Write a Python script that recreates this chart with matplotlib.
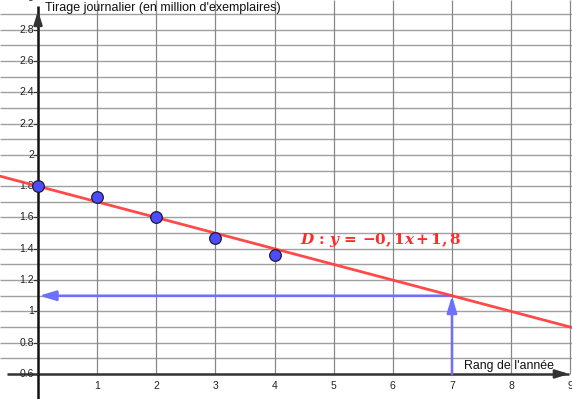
import matplotlib
matplotlib.use("Agg")
import matplotlib.pyplot as plt
import numpy as np

# Data
ranks = [0, 1, 2, 3, 4]
tirage = [1.80, 1.73, 1.60, 1.47, 1.36]
slope = -0.1
intercept = 1.8
x_pred = 7
y_ticks = [0.6, 0.8, 1, 1.2, 1.4, 1.6, 1.8, 2, 2.2, 2.4, 2.6, 2.8, 3]
y_tick_labels = ["0.6", "0.8", "1", "1.2", "1.4", "1.6", "1.8", "2", "2.2", "2.4", "2.6", "2.8", "3"]
x_ticks = [1, 2, 3, 4, 5, 6, 7, 8, 9]
x_tick_labels = ["1", "2", "3", "4", "5", "6", "7", "8", "9"]
y_label = "Tirage journalier (en million d'exemplaires)"
x_label = "Rang de l'année"
eq_label = r"$\mathbfit{D}\,\mathbf{:}\,\mathbfit{y}\,\mathbf{=}\,\mathbf{-0,1}\mathbfit{x}\,\mathbf{+}\,\mathbf{1,8}$"

plt.rcParams["mathtext.fontset"] = "dejavuserif"

XMIN, XMAX = -0.643, 9.03
YMIN, YMAX = 0.44, 2.99
Y_AXIS = 0.6

fig = plt.figure(figsize=(5.72, 3.99), dpi=100)
ax = fig.add_axes([0, 0, 1, 1])
ax.set_xlim(XMIN, XMAX)
ax.set_ylim(YMIN, YMAX)
ax.axis("off")

# grid
grid_y = np.round(np.arange(0.7, 3.0, 0.1), 2)
ax.hlines(grid_y, XMIN, XMAX, color="#a0a0a0", lw=1.0, zorder=1)
ax.vlines(x_ticks, Y_AXIS, YMAX, color="#888888", lw=0.9, zorder=1)

# axes lines
ax.plot([XMIN + 0.11, XMAX - 0.05], [Y_AXIS, Y_AXIS], color="#333333", lw=1.8, zorder=3, solid_capstyle="butt")
ax.plot([0, 0], [YMIN, YMAX - 0.04], color="#111111", lw=1.8, zorder=3, solid_capstyle="butt")
ax.annotate("", xy=(XMAX, Y_AXIS), xytext=(XMAX - 0.3, Y_AXIS),
            arrowprops=dict(arrowstyle="-|>,head_length=0.8,head_width=0.25", color="#333333", lw=1.8), zorder=4)
ax.annotate("", xy=(0, 2.94), xytext=(0, 2.8),
            arrowprops=dict(arrowstyle="-|>,head_length=0.8,head_width=0.25", color="#333333", lw=1.8), zorder=4)

tick_font = dict(family="Liberation Sans", fontsize=7.5, color="#222222")
for yv, lab in zip(y_ticks, y_tick_labels):
    ax.text(-0.07, yv, lab, ha="right", va="center", zorder=5, **tick_font)
    ax.plot([-0.06, 0], [yv, yv], color="#333333", lw=0.8, zorder=3)
for xv, lab in zip(x_ticks, x_tick_labels):
    ax.text(xv, Y_AXIS - 0.075, lab, ha="center", va="center", zorder=5, **tick_font)

# axis labels
ax.text(0.12, 2.975, y_label, ha="left", va="top", family="Liberation Sans", fontsize=9.0, color="#111111", zorder=5)
ax.text(7.2, 0.615, x_label, ha="left", va="bottom", family="Liberation Sans", fontsize=8.9, color="#111111", zorder=5)

# regression line
xs = np.array([XMIN, XMAX])
ax.plot(xs, slope * xs + intercept, color="#ff4040", lw=2.0, alpha=0.95, zorder=6)

# projection arrows
y_pred = slope * x_pred + intercept
ax.annotate("", xy=(0.02, y_pred), xytext=(x_pred, y_pred),
            arrowprops=dict(arrowstyle="-|>,head_length=1.0,head_width=0.3", color="#6f6fff", lw=1.8, shrinkA=0, shrinkB=0), zorder=5)
ax.annotate("", xy=(x_pred, y_pred), xytext=(x_pred, Y_AXIS),
            arrowprops=dict(arrowstyle="-|>,head_length=1.0,head_width=0.3", color="#6f6fff", lw=1.8, shrinkA=0, shrinkB=0), zorder=5)

# points
ax.scatter(ranks, tirage, s=70, color="#4d4dff", edgecolor="#1a1a33", linewidth=0.9, zorder=8, clip_on=False)

# equation
ax.text(4.43, 1.455, eq_label, color="#ff2a2a", fontsize=11, ha="left", va="center", zorder=7)

fig.savefig("out.png", dpi=100)
